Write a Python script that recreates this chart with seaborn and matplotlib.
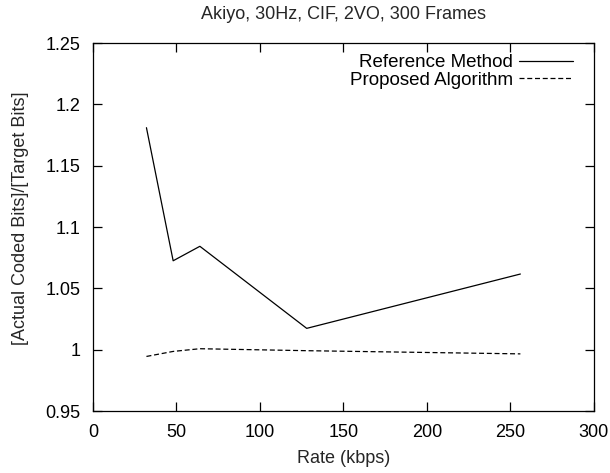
import matplotlib
matplotlib.use("Agg")
import matplotlib.pyplot as plt
import seaborn as sns
import pandas as pd

rates = [32, 48, 64, 128, 256]
reference_method = [1.181, 1.0725, 1.0843, 1.0174, 1.0617]
proposed_algorithm = [0.9945, 0.9986, 1.0008, 0.9992, 0.9966]
series_names = ["Reference Method", "Proposed Algorithm"]
title = "Akiyo, 30Hz, CIF, 2VO, 300 Frames"
xlabel = "Rate (kbps)"
ylabel = "[Actual Coded Bits]/[Target Bits]"
xticks = [0, 50, 100, 150, 200, 250, 300]
yticks = [0.95, 1.0, 1.05, 1.1, 1.15, 1.2, 1.25]
ytick_labels = ["0.95", "1", "1.05", "1.1", "1.15", "1.2", "1.25"]

df = pd.DataFrame({
    "rate": rates * 2,
    "ratio": reference_method + proposed_algorithm,
    "series": [series_names[0]] * len(rates) + [series_names[1]] * len(rates),
})

sns.set_style("ticks")
plt.rcParams["font.family"] = ["Liberation Sans", "DejaVu Sans"]
FS = 13

fig = plt.figure(figsize=(6.1, 4.73), dpi=100)
ax = fig.add_axes([0.1525, 0.131, 0.821, 0.778])

sns.lineplot(data=df, x="rate", y="ratio", hue="series", style="series",
             palette={series_names[0]: "black", series_names[1]: "black"},
             dashes={series_names[0]: "", series_names[1]: (4, 2.2)},
             linewidth=0.9, ax=ax, legend=True)

ax.set_xlim(0, 300)
ax.set_ylim(0.95, 1.25)
ax.set_xticks(xticks)
ax.set_yticks(yticks)
ax.set_yticklabels(ytick_labels)
ax.tick_params(direction="in", length=6.5, width=0.9, top=True, right=True,
               labelsize=FS, colors="black", pad=9)
for s in ax.spines.values():
    s.set_visible(True)
    s.set_linewidth(0.9)
    s.set_color("black")

ax.set_title(title, fontsize=FS, pad=17)
ax.set_xlabel(xlabel, fontsize=FS, labelpad=7)
ax.set_ylabel(ylabel, fontsize=FS)
ax.yaxis.set_label_coords(-0.128, 0.524)

leg = ax.legend(loc="upper right", frameon=False, markerfirst=False,
                handlelength=2.88, handletextpad=0.32, labelspacing=0.02,
                borderaxespad=0.0, bbox_to_anchor=(0.974, 0.99), fontsize=13.5)
for t in leg.get_texts():
    t.set_color("black")

fig.savefig("out.png", dpi=100)
